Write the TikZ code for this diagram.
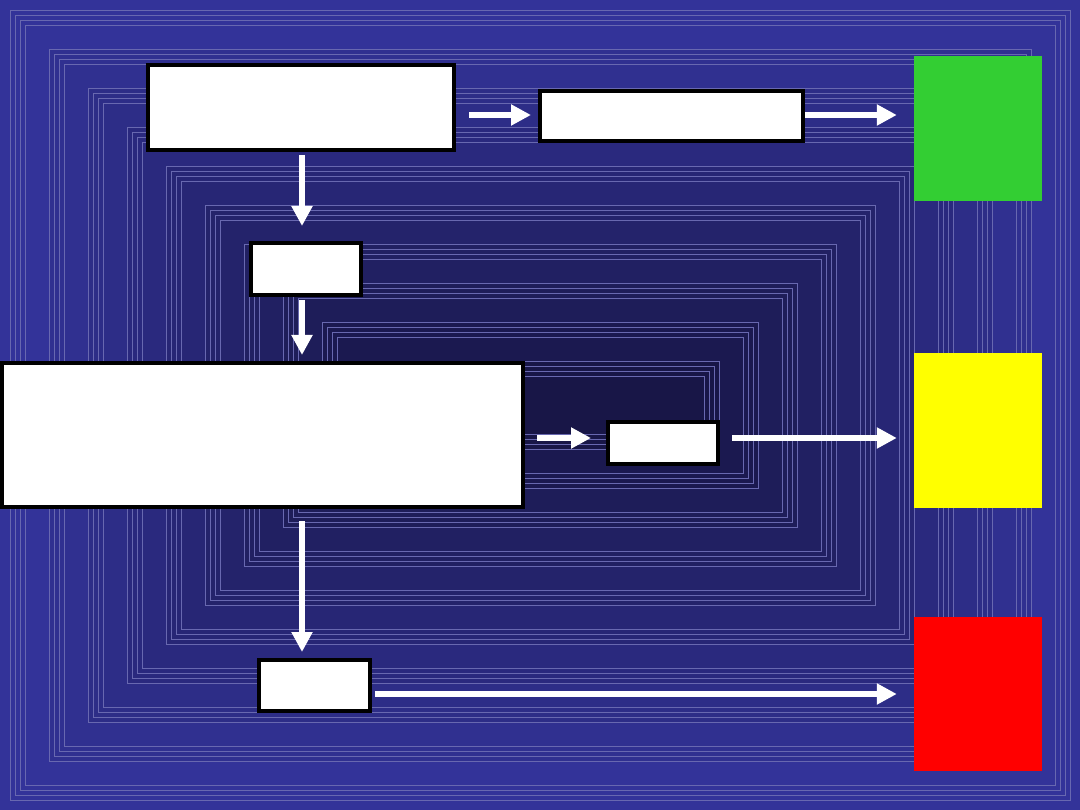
\documentclass[tikz,border=0pt]{standalone}
\usetikzlibrary{arrows.meta}
\definecolor{bgouter}{RGB}{51,51,153}
\definecolor{bginner}{RGB}{24,22,70}
\definecolor{ruleline}{RGB}{104,104,176}
\definecolor{okgreen}{RGB}{51,206,51}
\definecolor{waityellow}{RGB}{255,255,0}

\tikzset{
  stage/.style={draw=black,line width=4pt,fill=white,inner sep=0pt},
  signal/.style={inner sep=0pt,minimum width=128pt},
  flow/.style={-{Triangle[length=20pt,width=20pt]},white,line width=6.5pt}
}

\begin{document}
\begin{tikzpicture}[x=1pt,y=-1pt]
\useasboundingbox (0,0) rectangle (1080,810);
% background frames
\fill[bgouter] (0,0) rectangle (1080,810);
\foreach \i in {0,...,9}{
  \pgfmathtruncatemacro{\d}{10+39*\i}
  \pgfmathtruncatemacro{\p}{11*\i}
  \fill[bginner!\p!bgouter] (\d,\d) rectangle (1080-\d,810-\d);
  \foreach \k in {0,5,10,15}
    \draw[ruleline,line width=0.6pt] (\d+\k,\d+\k) rectangle (1080-\d-\k,810-\d-\k);
}

% boxes
\node[stage,minimum width=306pt,minimum height=85pt] (a) at (301,107.5) {};
\node[stage,minimum width=263pt,minimum height=50pt] (b) at (671.5,116) {};
\node[stage,minimum width=110pt,minimum height=52pt] (c) at (306,269) {};
\node[stage,minimum width=521pt,minimum height=144pt] (d) at (262.5,435) {};
\node[stage,minimum width=110pt,minimum height=42pt] (e) at (663,443) {};
\node[stage,minimum width=111pt,minimum height=51pt] (f) at (314.5,685.5) {};
\node[signal,fill=okgreen,minimum height=145pt] (go) at (978,128.5) {};
\node[signal,fill=waityellow,minimum height=155pt] (wait) at (978,430.5) {};
\node[signal,fill=red,minimum height=154pt] (stop) at (978,694) {};

% arrows
\draw[flow,shorten <=13pt,shorten >=7pt] ([yshift=1pt]a.east |- b.west) -- ([yshift=1pt]b.west);
\draw[flow,shorten >=17pt] ([yshift=1pt]b.east) -- ([yshift=1pt]b.east -| go.west);
\draw[flow,shorten <=3pt,shorten >=15pt] ([xshift=1pt]a.south) -- ([xshift=1pt]a.south |- c.north);
\draw[flow,shorten <=3pt,shorten >=6pt] ([xshift=1pt]a.south |- c.south) -- ([xshift=1pt]a.south |- d.north);
\draw[flow,shorten <=12pt,shorten >=6pt] ([xshift=1pt]a.south |- d.south) -- ([xshift=1pt]a.south |- f.north);
\draw[flow,shorten <=12pt,shorten >=15pt] ([yshift=5pt]d.east |- e.west) -- ([yshift=5pt]e.west);
\draw[flow,shorten <=12pt,shorten >=17pt] ([yshift=5pt]e.east) -- ([yshift=5pt]e.east -| wait.west);
\draw[flow,shorten <=3pt,shorten >=17pt] (f.east |- stop.west) -- (stop.west);
\end{tikzpicture}
\end{document}
